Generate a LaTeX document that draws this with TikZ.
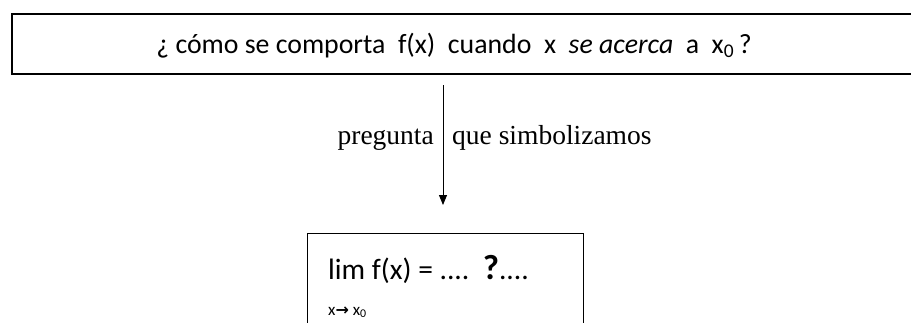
\documentclass[tikz,border=0pt]{standalone}
\usepackage{fontspec}
\setmainfont{Liberation Serif}
\newfontfamily\calfont{Carlito}
\newfontfamily\symfont{DejaVu Sans}
\usetikzlibrary{arrows.meta}
\tikzset{
  framebox/.style={draw, line width=1.8pt, inner sep=0pt, anchor=north west},
  limbox/.style={draw, line width=1.3pt, inner sep=0pt, anchor=north west},
  conn/.style={line width=0.9pt, -{Triangle[length=10pt,width=8pt]}},
  lbl/.style={inner sep=0pt, font=\fontsize{27.5}{30}\selectfont},
}
\begin{document}
\begin{tikzpicture}[x=1pt,y=1pt]
\useasboundingbox (0,0) rectangle (911,-322);
\clip (0,0) rectangle (911,-322);
% top box
\node[framebox, minimum width=930pt, minimum height=60pt] (top) at (11,-13) {};
\node[inner sep=0pt, anchor=base, font=\calfont\fontsize{27.8}{30}\selectfont] (qtext) at (454,-53)
  {¿ cómo se comporta\ \ f(x)\ \ cuando\ \ x\ \ \textit{se acerca}\ \ a\ \ x\textsubscript{0}\,?};
% arrow
\coordinate (s) at (443,-85);
\coordinate (e) at (443,-205);
\draw[conn] (s) -- (e);
\node[lbl, anchor=base east] (l1) at (434,-144) {pregunta};
\node[lbl, anchor=base west] (l2) at (452,-144) {que simbolizamos};
% bottom box
\node[limbox, minimum width=276pt, minimum height=120pt] (bot) at (307,-233) {};
\node[inner sep=0pt, anchor=base west, font=\calfont\fontsize{29.5}{32}\selectfont] (lim) at (328,-279)
  {lim f(x) = ....\ \ {\fontsize{35}{35}\selectfont\bfseries ?}....};
\node[inner sep=0pt, anchor=base west, font=\calfont\fontsize{17}{19}\selectfont] (sub) at (328,-315)
  {x{\symfont\fontsize{16}{18}\selectfont\bfseries →}\ x\textsubscript{0}};
\end{tikzpicture}
\end{document}
